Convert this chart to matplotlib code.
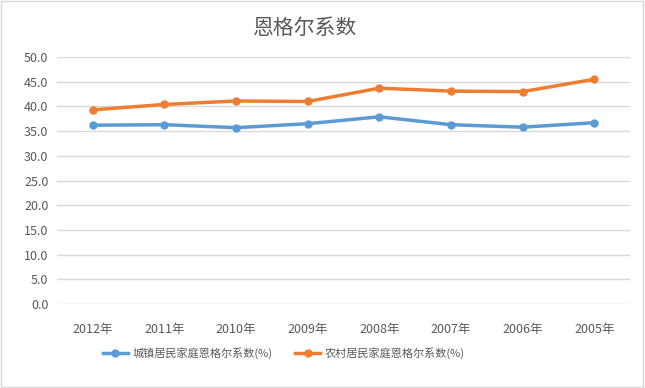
import matplotlib
matplotlib.use("Agg")
import matplotlib.pyplot as plt
import numpy as np

plt.rcParams['font.family'] = ['Noto Sans CJK SC', 'DejaVu Sans']

# data
years = ["2012年", "2011年", "2010年", "2009年", "2008年", "2007年", "2006年", "2005年"]
urban = [36.2, 36.3, 35.7, 36.5, 37.9, 36.3, 35.8, 36.7]
rural = [39.3, 40.4, 41.1, 41.0, 43.7, 43.1, 43.0, 45.5]
yticks = [0, 5, 10, 15, 20, 25, 30, 35, 40, 45, 50]

fig = plt.figure(figsize=(6.45, 3.88), dpi=100)
ax = fig.add_axes([0.088, 0.2165, 0.889, 0.6365])

x = np.arange(len(years))
ax.plot(x, urban, color="#5B9BD5", lw=2.5, marker="o", ms=5,
        label="城镇居民家庭恩格尔系数(%)")
ax.plot(x, rural, color="#ED7D31", lw=2.5, marker="o", ms=5,
        label="农村居民家庭恩格尔系数(%)")

ax.set_xlim(-0.5, len(years) - 0.5)
ax.set_ylim(0, 50)
ax.set_yticks(yticks)
ax.set_yticklabels([f"{v:.1f}" for v in yticks])
ax.set_xticks(x)
ax.set_xticklabels(years)
ax.tick_params(length=0, labelsize=9, colors="#595959", pad=14)
ax.tick_params(axis='y', pad=6)
ax.grid(axis='y', color="#D9D9D9", lw=1)
ax.set_axisbelow(True)
for s in ax.spines.values():
    s.set_visible(False)

fig.text(0.473, 0.928, "恩格尔系数", ha="center", va="center",
         fontsize=15, color="#595959")

fig.legend(loc="center", bbox_to_anchor=(0.44, 0.09), ncol=2, frameon=False,
           fontsize=8, labelcolor="#595959", handlelength=2.3,
           handletextpad=0.4, columnspacing=2)

fig.patches.append(plt.Rectangle((0.002, 0.003), 0.995, 0.994, transform=fig.transFigure,
                                 fill=False, ec="#D9D9D9", lw=1))

fig.savefig("out.png", dpi=100)
